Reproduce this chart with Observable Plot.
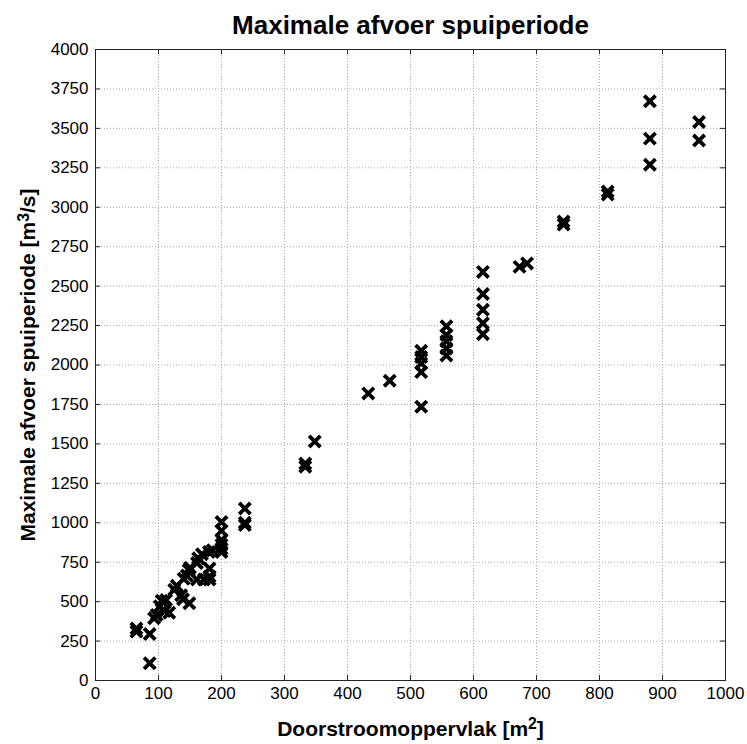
<!DOCTYPE html>
<html>
<head>
<meta charset="utf-8">
<script src="https://cdn.jsdelivr.net/npm/d3@7"></script>
<script src="https://cdn.jsdelivr.net/npm/@observablehq/plot@0.6"></script>
<style>
  html, body { margin: 0; padding: 0; background: #fff; }
  #chart { width: 747px; height: 744px; }
</style>
</head>
<body>
<div id="chart"></div>
<script>
// Doorstroomoppervlak [m2]
const areas = [
  65, 65, 86, 86, 93, 97,
  102, 105, 112, 110, 117,
  125, 129, 136, 139, 149,
  140, 145, 148, 150,
  161, 172, 161, 163, 169,
  180, 186, 181, 181, 181,
  200, 200, 200, 200, 200, 200,
  237, 237, 237,
  333, 333, 348, 433, 467,
  517, 517, 517, 517, 517,
  557, 557, 557, 557, 557,
  615, 615, 615, 615, 615,
  673, 685,
  743, 743,
  813, 813,
  880, 880, 880,
  958, 958
];
// Maximale afvoer spuiperiode [m3/s]
const discharges = [
  310, 330, 295, 110, 395, 415,
  470, 505, 510, 440, 430,
  575, 600, 540, 515, 490,
  645, 665, 700, 715,
  640, 640, 745, 775, 800,
  815, 825, 710, 660, 640,
  815, 835, 860, 890, 950, 1005,
  985, 1000, 1090,
  1355, 1375, 1515, 1820, 1900,
  1735, 1955, 2010, 2050, 2090,
  2060, 2105, 2150, 2190, 2245,
  2195, 2265, 2350, 2450, 2590,
  2622, 2644,
  2890, 2910,
  3080, 3100,
  3270, 3435, 3672,
  3423, 3540
];
const xTicks = d3.range(0, 1001, 100);
const yTicks = d3.range(0, 4001, 250);
const title = "Maximale afvoer spuiperiode";
const xLabel = "Doorstroomoppervlak [m²]";
const yLabel = "Maximale afvoer spuiperiode [m³/s]";

const points = areas.map((a, i) => ({area: a, q: discharges[i]}));

const W = 747, H = 744;
const mL = 95, mR = 22, mT = 49, mB = 64;
const innerW = W - mL - mR, innerH = H - mT - mB;
const tick = 5;
const font = "'Liberation Sans', Arial, Helvetica, sans-serif";

const plot = Plot.plot({
  width: W,
  height: H,
  marginLeft: mL,
  marginRight: mR,
  marginTop: mT,
  marginBottom: mB,
  style: {fontFamily: font, background: "#fff", color: "#000"},
  x: {domain: [0, 1000]},
  y: {domain: [0, 4000]},
  marks: [
    // dotted grid
    Plot.ruleX(xTicks.slice(1, -1), {x: d => d, stroke: "#a8a8a8", strokeDasharray: "1,2"}),
    Plot.ruleY(yTicks.slice(1, -1), {y: d => d, stroke: "#a8a8a8", strokeDasharray: "1,2"}),
    // inward ticks on all four sides
    Plot.ruleX(xTicks, {x: d => d, insetTop: innerH - tick, stroke: "#222"}),
    Plot.ruleX(xTicks, {x: d => d, insetBottom: innerH - tick, stroke: "#222"}),
    Plot.ruleY(yTicks, {y: d => d, insetRight: innerW - tick, stroke: "#222"}),
    Plot.ruleY(yTicks, {y: d => d, insetLeft: innerW - tick, stroke: "#222"}),
    Plot.frame({stroke: "#222", strokeWidth: 1}),
    // tick labels
    Plot.axisX(xTicks, {tickSize: 0, tickPadding: 6, fontSize: 17, label: null, tickFormat: d => String(d)}),
    Plot.axisY(yTicks, {tickSize: 0, tickPadding: 7, fontSize: 17, label: null, tickFormat: d => String(d)}),
    // data
    Plot.dot(points, {x: "area", y: "q", symbol: "times", r: 5.2, stroke: "#000", strokeWidth: 3.8}),
    // title and axis labels
    Plot.text([title], {text: d => d, frameAnchor: "top", dy: -34, fontSize: 26, fontWeight: "bold", fill: "#000"}),
    Plot.text([xLabel], {text: d => d, frameAnchor: "bottom", dy: 55, fontSize: 21, fontWeight: "bold", fill: "#000"}),
    Plot.text([yLabel], {text: d => d, frameAnchor: "left", textAnchor: "middle", dx: -67, rotate: -90, fontSize: 21, fontWeight: "bold", fill: "#000"})
  ]
});

// render superscripts as raised digits
plot.querySelectorAll("text").forEach(t => {
  const s = t.textContent;
  if (s.includes("²") || s.includes("³")) {
    const m = s.match(/^(.*?)([²³])(.*)$/);
    const digit = m[2] === "²" ? "2" : "3";
    t.textContent = "";
    const NS = "http://www.w3.org/2000/svg";
    const a = document.createElementNS(NS, "tspan"); a.textContent = m[1];
    const b = document.createElementNS(NS, "tspan"); b.textContent = digit;
    b.setAttribute("dy", "-0.4em"); b.setAttribute("font-size", "0.75em");
    const c = document.createElementNS(NS, "tspan"); c.textContent = m[3];
    c.setAttribute("dy", "0.3em");
    t.append(a, b, c);
  }
});

document.getElementById("chart").appendChild(plot);
</script>
</body>
</html>
